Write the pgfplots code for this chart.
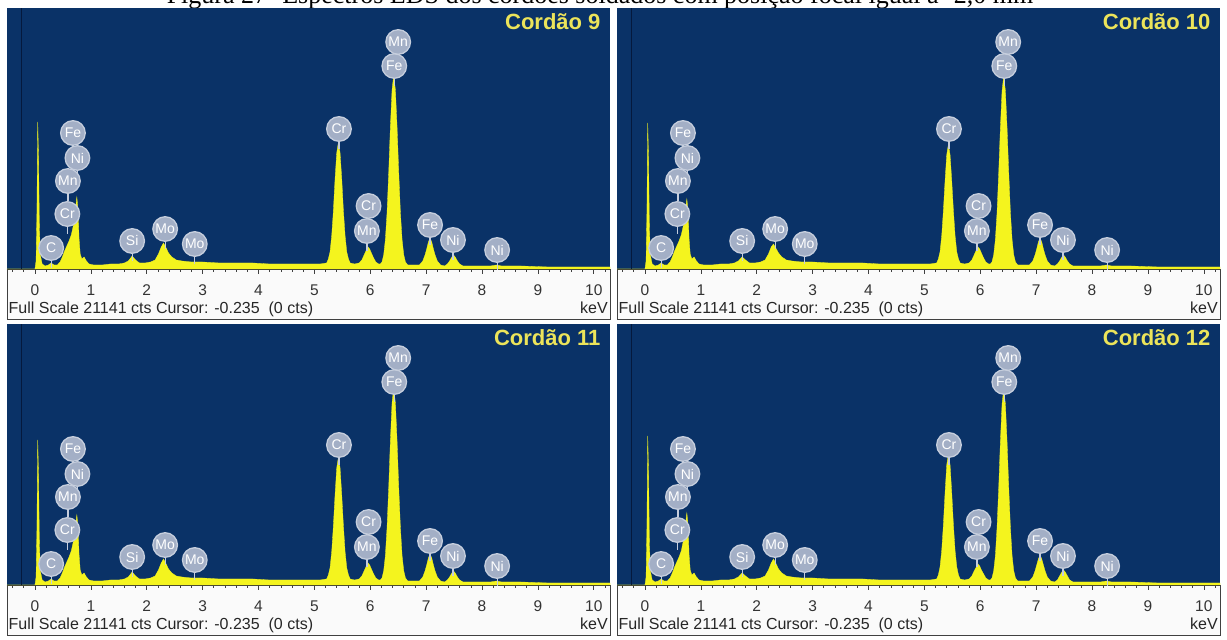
\documentclass[border=0pt]{standalone}
\usepackage{fontspec}
\setmainfont{Liberation Serif}
\newfontfamily\edsf{Liberation Sans}
\usepackage{pgfplots}
\pgfplotsset{compat=1.18}
\usepackage{pgfplotstable}
\definecolor{edsbg}{HTML}{0A3267}
\definecolor{edsyel}{HTML}{F4F41E}
\definecolor{ttlyel}{HTML}{ECE45A}
\definecolor{lblfill}{HTML}{A3AFC6}
\definecolor{lbledge}{HTML}{C6CEDD}
\definecolor{cursorc}{HTML}{05193D}
\definecolor{stripbg}{HTML}{FAFAFA}

% Spectrum, Cordao 9 (x in keV, y = height above axis line)
\pgfplotstableread[row sep=\\]{
x y\\
-0.50 0\\ 0.00 0\\ 0.02 8\\ 0.035 55\\ 0.05 147\\ 0.065 110\\ 0.08 40\\ 0.10 13\\ 0.13 5\\ 0.18 3\\
0.24 4\\ 0.29 6\\ 0.34 4\\ 0.40 4\\ 0.45 7\\ 0.49 12\\ 0.53 18\\ 0.57 23\\ 0.61 28\\ 0.65 34\\
0.69 44\\ 0.72 58\\ 0.75 72\\ 0.77 60\\ 0.79 30\\ 0.81 15\\ 0.84 10\\ 0.88 12\\ 0.92 8\\ 0.97 5\\
1.05 4\\ 1.20 4\\ 1.35 5\\ 1.50 5\\ 1.60 6\\ 1.67 8\\ 1.74 13\\ 1.80 9\\ 1.87 6\\ 1.97 6\\
2.07 7\\ 2.15 9\\ 2.21 15\\ 2.26 22\\ 2.30 26\\ 2.34 22\\ 2.39 16\\ 2.45 12\\ 2.53 9\\ 2.63 8\\
2.80 7\\ 3.00 7\\ 3.30 6\\ 3.60 6\\ 3.90 6\\ 4.20 5\\ 4.50 5\\ 4.80 5\\ 5.10 5\\
5.22 6\\ 5.25 10\\ 5.28 17\\ 5.31 33\\ 5.34 58\\ 5.37 90\\ 5.40 116\\ 5.43 127\\ 5.46 116\\ 5.49 90\\ 5.52 58\\ 5.55 33\\ 5.58 17\\ 5.61 10\\ 5.64 6\\
5.72 5\\ 5.80 6\\ 5.85 9\\ 5.89 14\\ 5.93 19\\ 5.96 22\\ 5.99 20\\ 6.02 16\\ 6.06 11\\ 6.10 7\\ 6.15 5\\
6.18 5\\ 6.21 7\\ 6.24 14\\ 6.27 29\\ 6.30 56\\ 6.33 96\\ 6.36 142\\ 6.39 179\\ 6.42 194\\ 6.45 179\\ 6.48 142\\ 6.51 96\\ 6.54 56\\ 6.57 29\\ 6.60 14\\ 6.63 7\\ 6.67 4\\
6.78 4\\ 6.88 4\\ 6.94 8\\ 6.98 14\\ 7.01 20\\ 7.04 27\\ 7.07 31\\ 7.10 27\\ 7.13 20\\ 7.16 14\\ 7.20 8\\ 7.26 4\\
7.33 3\\ 7.38 5\\ 7.42 8\\ 7.46 12\\ 7.49 14\\ 7.52 12\\ 7.56 8\\ 7.60 5\\ 7.66 3\\
7.90 3\\ 8.15 3\\ 8.26 4\\ 8.35 3\\ 8.70 3\\ 9.20 2\\ 9.70 2\\ 10.29 2\\
}\specA

% Cordao 10
\pgfplotstableread[row sep=\\]{
x y\\
-0.50 0\\ 0.00 0\\ 0.02 8\\ 0.035 55\\ 0.05 146\\ 0.065 109\\ 0.08 40\\ 0.10 13\\ 0.13 5\\ 0.18 3\\
0.24 4\\ 0.29 6\\ 0.34 4\\ 0.40 4\\ 0.45 7\\ 0.49 12\\ 0.53 18\\ 0.57 23\\ 0.61 28\\ 0.65 34\\
0.69 44\\ 0.72 57\\ 0.75 70\\ 0.77 59\\ 0.79 30\\ 0.81 15\\ 0.84 10\\ 0.88 12\\ 0.92 8\\ 0.97 5\\
1.05 4\\ 1.20 4\\ 1.35 5\\ 1.50 5\\ 1.60 6\\ 1.67 8\\ 1.74 12\\ 1.80 9\\ 1.87 6\\ 1.97 6\\
2.07 7\\ 2.15 9\\ 2.21 15\\ 2.26 22\\ 2.30 25\\ 2.34 21\\ 2.39 16\\ 2.45 12\\ 2.53 9\\ 2.63 8\\
2.80 7\\ 3.00 7\\ 3.30 6\\ 3.60 6\\ 3.90 6\\ 4.20 5\\ 4.50 5\\ 4.80 5\\ 5.10 5\\
5.22 6\\ 5.25 10\\ 5.28 17\\ 5.31 33\\ 5.34 58\\ 5.37 88\\ 5.40 114\\ 5.43 125\\ 5.46 114\\ 5.49 88\\ 5.52 58\\ 5.55 33\\ 5.58 17\\ 5.61 10\\ 5.64 6\\
5.72 5\\ 5.80 6\\ 5.85 9\\ 5.89 14\\ 5.93 19\\ 5.96 22\\ 5.99 20\\ 6.02 16\\ 6.06 11\\ 6.10 7\\ 6.15 5\\
6.18 5\\ 6.21 7\\ 6.24 14\\ 6.27 29\\ 6.30 56\\ 6.33 96\\ 6.36 141\\ 6.39 178\\ 6.42 193\\ 6.45 178\\ 6.48 141\\ 6.51 96\\ 6.54 56\\ 6.57 29\\ 6.60 14\\ 6.63 7\\ 6.67 4\\
6.78 4\\ 6.88 4\\ 6.94 8\\ 6.98 14\\ 7.01 20\\ 7.04 27\\ 7.07 31\\ 7.10 27\\ 7.13 20\\ 7.16 14\\ 7.20 8\\ 7.26 4\\
7.33 3\\ 7.38 5\\ 7.42 8\\ 7.46 12\\ 7.49 14\\ 7.52 12\\ 7.56 8\\ 7.60 5\\ 7.66 3\\
7.90 3\\ 8.15 3\\ 8.26 4\\ 8.35 3\\ 8.70 3\\ 9.20 2\\ 9.70 2\\ 10.29 2\\
}\specB

% Cordao 11
\pgfplotstableread[row sep=\\]{
x y\\
-0.50 0\\ 0.00 0\\ 0.02 8\\ 0.035 54\\ 0.05 145\\ 0.065 108\\ 0.08 40\\ 0.10 13\\ 0.13 5\\ 0.18 3\\
0.24 4\\ 0.29 6\\ 0.34 4\\ 0.40 4\\ 0.45 7\\ 0.49 12\\ 0.53 18\\ 0.57 23\\ 0.61 28\\ 0.65 34\\
0.69 44\\ 0.72 57\\ 0.75 70\\ 0.77 59\\ 0.79 30\\ 0.81 15\\ 0.84 10\\ 0.88 12\\ 0.92 8\\ 0.97 5\\
1.05 4\\ 1.20 4\\ 1.35 5\\ 1.50 5\\ 1.60 6\\ 1.67 8\\ 1.74 13\\ 1.80 9\\ 1.87 6\\ 1.97 6\\
2.07 7\\ 2.15 9\\ 2.21 15\\ 2.26 22\\ 2.30 26\\ 2.34 22\\ 2.39 16\\ 2.45 12\\ 2.53 9\\ 2.63 8\\
2.80 7\\ 3.00 7\\ 3.30 6\\ 3.60 6\\ 3.90 6\\ 4.20 5\\ 4.50 5\\ 4.80 5\\ 5.10 5\\
5.22 6\\ 5.25 10\\ 5.28 17\\ 5.31 33\\ 5.34 59\\ 5.37 90\\ 5.40 117\\ 5.43 128\\ 5.46 117\\ 5.49 90\\ 5.52 59\\ 5.55 33\\ 5.58 17\\ 5.61 10\\ 5.64 6\\
5.72 5\\ 5.80 6\\ 5.85 9\\ 5.89 14\\ 5.93 19\\ 5.96 22\\ 5.99 20\\ 6.02 16\\ 6.06 11\\ 6.10 7\\ 6.15 5\\
6.18 5\\ 6.21 7\\ 6.24 14\\ 6.27 29\\ 6.30 57\\ 6.33 97\\ 6.36 144\\ 6.39 182\\ 6.42 197\\ 6.45 182\\ 6.48 144\\ 6.51 97\\ 6.54 57\\ 6.57 29\\ 6.60 14\\ 6.63 7\\ 6.67 4\\
6.78 4\\ 6.88 4\\ 6.94 8\\ 6.98 14\\ 7.01 20\\ 7.04 27\\ 7.07 31\\ 7.10 27\\ 7.13 20\\ 7.16 14\\ 7.20 8\\ 7.26 4\\
7.33 3\\ 7.38 5\\ 7.42 8\\ 7.46 12\\ 7.49 14\\ 7.52 12\\ 7.56 8\\ 7.60 5\\ 7.66 3\\
7.90 3\\ 8.15 3\\ 8.26 4\\ 8.35 3\\ 8.70 3\\ 9.20 2\\ 9.70 2\\ 10.29 2\\
}\specC

% Cordao 12
\pgfplotstableread[row sep=\\]{
x y\\
-0.50 0\\ 0.00 0\\ 0.02 8\\ 0.035 56\\ 0.05 149\\ 0.065 111\\ 0.08 41\\ 0.10 13\\ 0.13 5\\ 0.18 3\\
0.24 4\\ 0.29 6\\ 0.34 4\\ 0.40 4\\ 0.45 7\\ 0.49 12\\ 0.53 18\\ 0.57 23\\ 0.61 28\\ 0.65 34\\
0.69 45\\ 0.72 59\\ 0.75 72\\ 0.77 61\\ 0.79 30\\ 0.81 15\\ 0.84 10\\ 0.88 12\\ 0.92 8\\ 0.97 5\\
1.05 4\\ 1.20 4\\ 1.35 5\\ 1.50 5\\ 1.60 6\\ 1.67 8\\ 1.74 12\\ 1.80 9\\ 1.87 6\\ 1.97 6\\
2.07 7\\ 2.15 9\\ 2.21 15\\ 2.26 22\\ 2.30 26\\ 2.34 22\\ 2.39 16\\ 2.45 12\\ 2.53 9\\ 2.63 8\\
2.80 7\\ 3.00 7\\ 3.30 6\\ 3.60 6\\ 3.90 6\\ 4.20 5\\ 4.50 5\\ 4.80 5\\ 5.10 5\\
5.22 6\\ 5.25 10\\ 5.28 18\\ 5.31 34\\ 5.34 60\\ 5.37 92\\ 5.40 120\\ 5.43 131\\ 5.46 120\\ 5.49 92\\ 5.52 60\\ 5.55 34\\ 5.58 18\\ 5.61 10\\ 5.64 6\\
5.72 5\\ 5.80 6\\ 5.85 9\\ 5.89 14\\ 5.93 18\\ 5.96 21\\ 5.99 19\\ 6.02 15\\ 6.06 11\\ 6.10 7\\ 6.15 5\\
6.18 5\\ 6.21 7\\ 6.24 14\\ 6.27 29\\ 6.30 57\\ 6.33 97\\ 6.36 143\\ 6.39 181\\ 6.42 196\\ 6.45 181\\ 6.48 143\\ 6.51 97\\ 6.54 57\\ 6.57 29\\ 6.60 14\\ 6.63 7\\ 6.67 4\\
6.78 4\\ 6.88 4\\ 6.94 8\\ 6.98 14\\ 7.01 20\\ 7.04 26\\ 7.07 30\\ 7.10 26\\ 7.13 20\\ 7.16 14\\ 7.20 8\\ 7.26 4\\
7.33 3\\ 7.38 5\\ 7.42 9\\ 7.46 13\\ 7.49 15\\ 7.52 13\\ 7.56 9\\ 7.60 5\\ 7.66 3\\
7.90 3\\ 8.15 3\\ 8.26 4\\ 8.35 3\\ 8.70 3\\ 9.20 2\\ 9.70 2\\ 10.29 2\\
}\specD

% Element labels (x keV, centre height, stem length, symbol)
\pgfplotstableread[row sep=\\]{
x y e lab\\
0.29 21 20 C\\
0.58 55 20 Cr\\
0.59 88 20 Mn\\
0.76 111 20 Ni\\
0.68 136 20 Fe\\
1.74 28 20 Si\\
2.33 40 20 Mo\\
2.86 25 20 Mo\\
5.44 140 20 Cr\\
5.94 38 20 Mn\\
5.97 63 20 Cr\\
6.43 203 20 Fe\\
6.50 227 20 Mn\\
7.07 44 20 Fe\\
7.48 29 20 Ni\\
8.27 19 20 Ni\\
}\labs

\pgfplotsset{
 eds/.style={
  scale only axis, width=603pt, height=261pt,
  xmin=-0.5, xmax=10.29, ymin=0, ymax=261,
  axis background/.style={fill=edsbg},
  axis x line*=bottom, axis y line=none,
  x axis line style={-, draw=black!80, line width=0.8pt},
  xtick={0,1,...,10}, xticklabels={0,1,2,3,4,5,6,7,8,9,10},
  minor xtick={-0.4,-0.2,...,10.2},
  tick align=outside, major tick length=5pt, minor tick length=3pt,
  tick style={draw=black!75, line width=0.6pt},
  xticklabel style={font=\edsf\fontsize{15.5}{15.5}\selectfont, text=black!80, anchor=center, yshift=-16.5pt},
  clip=false,
 },
}

\newcommand{\edscontent}[2]{%
  \addplot[fill=edsyel, draw=edsyel, line width=0.3pt] table[x=x,y=y] {#1} \closedcycle;
  \addplot[draw=cursorc, line width=1pt] coordinates {(-0.235,0) (-0.235,261)};
  \addplot[only marks, mark=none, error bars/.cd, y dir=minus, y explicit, error mark=none,
     error bar style={draw=lbledge, line width=1.2pt}] table[x=x, y=y, y error=e] {\labs};
  \addplot[only marks, mark=*, mark size=12.3pt,
     mark options={fill=lblfill, draw=lbledge, line width=1.3pt},
     point meta=explicit symbolic, nodes near coords,
     every node near coord/.append style={anchor=center, font=\edsf\fontsize{14}{14}\selectfont, text=white, inner sep=0pt}]
     table[x=x, y=y, meta=lab] {\labs};
  \node[anchor=base east, xshift=-6pt, yshift=-22pt, font=\edsf\bfseries\fontsize{22}{22}\selectfont, text=ttlyel] at (rel axis cs:1,1) {#2};
  \node[anchor=base west, xshift=1.5pt, yshift=-45pt, inner sep=0pt, font=\edsf\fontsize{16}{16}\selectfont, text=black!85] at (rel axis cs:0,0) {Full Scale 21141 cts Cursor: -0.235\ \ (0 cts)};
  \node[anchor=base east, xshift=-2pt, yshift=-45pt, inner sep=0pt, font=\edsf\fontsize{16}{16}\selectfont, text=black!85] at (rel axis cs:1,0) {keV};
}

\begin{document}
\begin{tikzpicture}
\fill[white] (0,0) rectangle (1227pt,640pt);
\node[anchor=base, inner sep=0pt, font=\fontsize{26}{26}\selectfont] at (600pt,636pt) {Figura 27- Espectros EDS dos cordões soldados com posição focal igual a -2,0 mm};
\foreach \px/\py in {7/321, 617/321, 7/5, 617/5} {
  \fill[stripbg] (\px pt,\py pt) rectangle ++(603pt,50pt);
  \draw[black!75, line width=0.8pt] (\px pt,\py pt) ++(0,50pt) -- ++(0,-50pt) -- ++(603pt,0) -- ++(0,50pt);
}
\begin{axis}[eds, at={(7pt,371pt)}, anchor=south west]
\edscontent{\specA}{Cordão 9}
\end{axis}
\begin{axis}[eds, at={(617pt,371pt)}, anchor=south west]
\edscontent{\specB}{Cordão 10}
\end{axis}
\begin{axis}[eds, at={(7pt,55pt)}, anchor=south west]
\edscontent{\specC}{Cordão 11}
\end{axis}
\begin{axis}[eds, at={(617pt,55pt)}, anchor=south west]
\edscontent{\specD}{Cordão 12}
\end{axis}
\pgfresetboundingbox
\useasboundingbox (0,0) rectangle (1227pt,640pt);
\end{tikzpicture}
\end{document}
